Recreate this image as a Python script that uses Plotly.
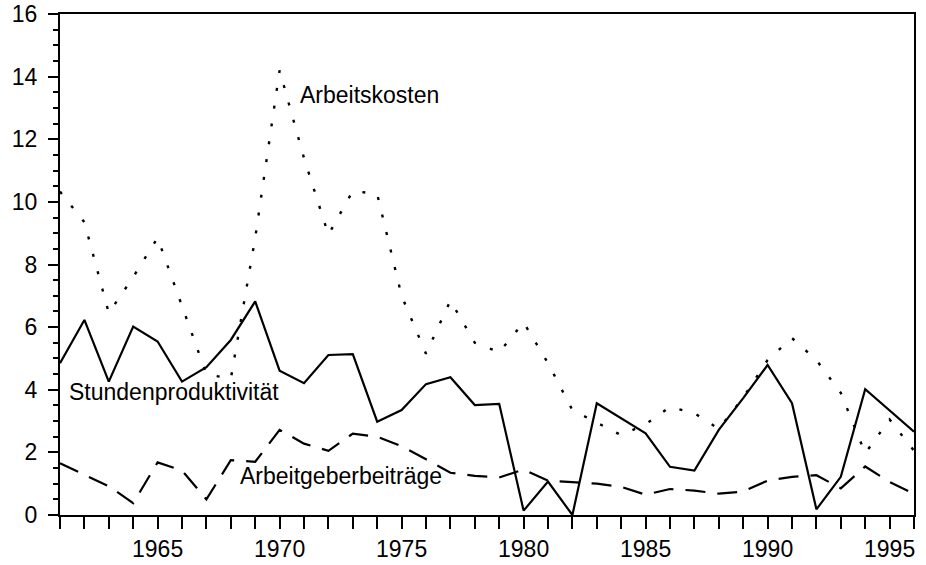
import plotly.graph_objects as go

years = list(range(1961, 1997))

stundenproduktivitaet = [4.85, 6.23, 4.26, 6.02, 5.54, 4.26, 4.72, 5.59, 6.82, 4.61,
                         4.21, 5.11, 5.14, 2.98, 3.35, 4.18, 4.40, 3.51, 3.55, 0.14,
                         1.07, 0.00, 3.57, 3.10, 2.61, 1.54, 1.42, 2.72, 3.73, 4.79,
                         3.57, 0.18, 1.22, 4.02, 3.35, 2.66]

arbeitskosten = [10.33, 9.35, 6.45, 7.60, 8.85, 6.70, 4.50, 4.35, 8.85, 14.20,
                 11.40, 8.95, 10.35, 10.25, 7.00, 5.15, 6.85, 5.50, 5.20, 6.15,
                 4.85, 3.35, 2.95, 2.55, 2.90, 3.45, 3.25, 2.75, 3.75, 4.95,
                 5.65, 4.95, 3.90, 1.97, 3.05, 2.05]

arbeitgeberbeitraege = [1.65, 1.28, 0.92, 0.38, 1.68, 1.42, 0.50, 1.75, 1.70, 2.72,
                        2.28, 2.05, 2.60, 2.50, 2.20, 1.78, 1.35, 1.25, 1.20, 1.45,
                        1.10, 1.05, 1.00, 0.90, 0.65, 0.83, 0.78, 0.68, 0.75, 1.10,
                        1.22, 1.27, 0.85, 1.55, 1.05, 0.68]

x_tickvals = [1965, 1970, 1975, 1980, 1985, 1990, 1995]
y_tickvals = [0, 2, 4, 6, 8, 10, 12, 14, 16]

labels = [
    ("Arbeitskosten", 1970.75, 13.4),
    ("Stundenproduktivität", 1961.3, 3.93),
    ("Arbeitgeberbeiträge", 1968.3, 1.25),
]

FONT = "Liberation Sans, Arial, Helvetica, sans-serif"

fig = go.Figure()
fig.add_trace(go.Scatter(x=years, y=arbeitskosten, mode="lines",
                         line=dict(color="black", width=2.4, dash="3px,15px"),
                         name="Arbeitskosten"))
fig.add_trace(go.Scatter(x=years, y=arbeitgeberbeitraege, mode="lines",
                         line=dict(color="black", width=2.2, dash="20px,12px"),
                         name="Arbeitgeberbeiträge"))
fig.add_trace(go.Scatter(x=years, y=stundenproduktivitaet, mode="lines",
                         line=dict(color="black", width=2.2),
                         name="Stundenproduktivität"))

for text, lx, ly in labels:
    fig.add_annotation(x=lx, y=ly, xref="x", yref="y", text=text, showarrow=False,
                       xanchor="left", yanchor="middle",
                       font=dict(family=FONT, size=23, color="black"))

fig.update_layout(
    width=926, height=565,
    margin=dict(l=60, r=12, t=14, b=50, autoexpand=False),
    paper_bgcolor="white", plot_bgcolor="white",
    showlegend=False,
    font=dict(family=FONT, size=23, color="black"),
)
fig.update_xaxes(range=[1961, 1996], tickvals=x_tickvals, ticks="outside",
                 ticklen=12, tickwidth=2, tickcolor="black",
                 showline=True, linecolor="black", linewidth=2, mirror=True,
                 showgrid=False, zeroline=False, automargin=False,
                 minor=dict(dtick=1, tick0=1961, ticks="outside", ticklen=12,
                            tickwidth=2, tickcolor="black", showgrid=False),
                 tickfont=dict(family=FONT, size=23, color="black"))
fig.update_yaxes(range=[0, 16], tickvals=y_tickvals, ticks="outside",
                 ticklen=10, tickwidth=2, tickcolor="black",
                 showline=True, linecolor="black", linewidth=2, mirror=True,
                 showgrid=False, zeroline=False, automargin=False,
                 ticklabelstandoff=6,
                 minor=dict(dtick=0.5, tick0=0, ticks="outside", ticklen=5,
                            tickwidth=1.5, tickcolor="black", showgrid=False),
                 tickfont=dict(family=FONT, size=23, color="black"))

fig.write_html("out.html", config={"displayModeBar": False},
               post_script="document.body.style.margin='0';")
